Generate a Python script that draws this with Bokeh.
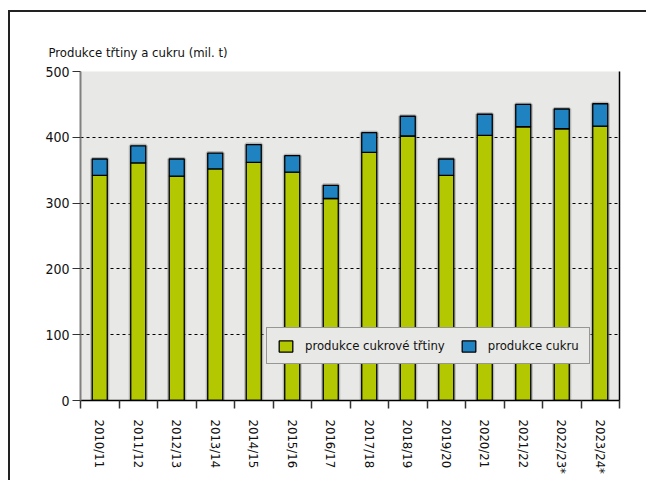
from bokeh.plotting import figure
from bokeh.models import (FixedTicker, LinearAxis, Legend, LegendItem, Title,
                          ColumnDataSource, Range1d)
from bokeh.embed import file_html
from bokeh.resources import INLINE

# ---- data ----
categories = ["2010/11", "2011/12", "2012/13", "2013/14", "2014/15", "2015/16",
              "2016/17", "2017/18", "2018/19", "2019/20", "2020/21", "2021/22",
              "2022/23*", "2023/24*"]
cane = [342, 361, 341, 352, 362, 347, 307, 377, 402, 342, 403, 416, 413, 417]
sugar = [25, 26, 26, 24, 27, 25, 20, 30, 30, 25, 32, 34, 30, 34]
y_ticks = [0, 100, 200, 300, 400, 500]
title_text = "Produkce třtiny a cukru (mil. t)"
series_names = ["produkce cukrové třtiny", "produkce cukru"]

FONT = "DejaVu Sans Condensed, Roboto Condensed, Liberation Sans Narrow, Roboto"
GREEN = "#b3c800"
BLUE = "#1f82c1"
BG = "#e8e8e6"

xs = list(range(len(categories)))
total = [c + s for c, s in zip(cane, sugar)]
src = ColumnDataSource(dict(x=xs, cane=cane, total=total, zero=[0] * len(xs)))

p = figure(width=638, height=470, output_backend="svg", toolbar_location=None,
           x_range=Range1d(-0.5, len(categories) - 0.5), y_range=Range1d(0, 500),
           min_border_left=70, min_border_top=59, min_border_right=29,
           min_border_bottom=82)
p.margin = (10, 0, 0, 8)
p.styles = {"border-top": "2px solid #222", "border-left": "2px solid #222"}
p.background_fill_color = BG
p.border_fill_color = "white"
p.outline_line_color = None

# grid
p.xgrid.grid_line_color = None
p.ygrid.ticker = FixedTicker(ticks=y_ticks)
p.ygrid.grid_line_color = "black"
p.ygrid.grid_line_dash = "3 3"
p.ygrid.grid_line_width = 1

# soft shadow behind the bars
p.vbar(x="x", bottom="zero", top="total", width=0.39, source=src,
       fill_color=None, line_color="#777", line_alpha=0.45, line_width=4)

r1 = p.vbar(x="x", bottom="zero", top="cane", width=0.39, source=src,
            fill_color=GREEN, line_color="black", line_width=1.3)
r2 = p.vbar(x="x", bottom="cane", top="total", width=0.39, source=src,
            fill_color=BLUE, line_color="black", line_width=1.3)

# y axis
ya = p.yaxis[0]
ya.ticker = FixedTicker(ticks=y_ticks)
ya.axis_line_color = "#808080"
ya.axis_line_width = 2
ya.major_tick_line_color = "#333"
ya.major_tick_out = 8
ya.major_tick_in = 0
ya.minor_tick_line_color = None
ya.major_label_standoff = 3
ya.major_label_text_font = FONT
ya.major_label_text_font_size = "14px"
ya.major_label_text_color = "#111"

# x axis
xa = p.xaxis[0]
xa.ticker = FixedTicker(ticks=xs, minor_ticks=[i - 0.5 for i in range(len(categories) + 1)])
xa.major_label_overrides = {i: c for i, c in enumerate(categories)}
xa.major_label_orientation = "vertical"
xa.major_tick_line_color = None
xa.major_tick_out = 0
xa.minor_tick_out = 8
xa.minor_tick_in = 0
xa.minor_tick_line_color = "#333"
xa.minor_tick_line_width = 1.5
xa.axis_line_color = "black"
xa.axis_line_width = 1.5
xa.major_label_standoff = 11
xa.major_label_text_font = FONT
xa.major_label_text_font_size = "13px"
xa.major_label_text_color = "#111"

# right border
ra = LinearAxis(major_tick_line_color=None, minor_tick_line_color=None,
                major_label_text_font_size="0px", axis_line_color="black",
                axis_line_width=1.5, ticker=FixedTicker(ticks=[]))
p.add_layout(ra, "right")

# title
t = Title(text=title_text, align="left", offset=-32, text_font=FONT,
          text_font_size="13px", text_font_style="normal", text_color="#111",
          standoff=23)
p.add_layout(t, "above")

legend = Legend(items=[LegendItem(label=series_names[0], renderers=[r1]),
                       LegendItem(label=series_names[1], renderers=[r2])],
                orientation="horizontal", location=(186, 36),
                background_fill_color=BG, background_fill_alpha=1,
                border_line_color="#444", border_line_width=1.5,
                label_text_font=FONT, label_text_font_size="13px",
                label_text_color="#111", glyph_width=17, glyph_height=14,
                label_standoff=11, spacing=15, padding=10, margin=0,
                label_height=14)
p.add_layout(legend, "center")

open("out.html", "w").write(file_html(p, INLINE))
